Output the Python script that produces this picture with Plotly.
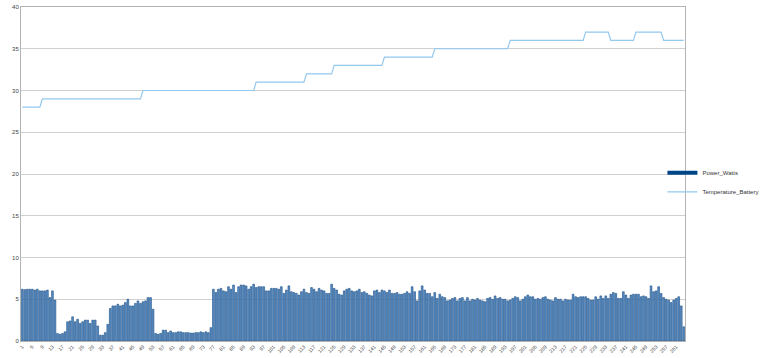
import plotly.graph_objects as go

categories = list(range(1, 265))

power_watts = [
    # 1-14
    6.2, 6.15, 6.2, 6.2, 6.2, 6.1, 6.2, 6.0, 6.0, 6.0, 6.1, 5.2, 6.0, 4.9,
    # 15-18
    0.9, 0.8, 0.9, 1.1,
    # 19-31
    2.3, 2.4, 2.9, 2.3, 2.6, 2.1, 2.3, 2.5, 2.5, 2.1, 2.5, 2.5, 1.8,
    # 32-35
    0.7, 0.7, 1.0, 2.0,
    # 36-52
    3.9, 4.2, 4.2, 4.4, 4.2, 4.3, 4.6, 5.0, 4.2, 4.2, 4.5, 4.8, 4.5, 4.7, 4.8, 5.2, 5.2,
    # 53
    3.8,
    # 54-76
    0.9, 0.8, 0.9, 1.3, 1.3, 1.0, 1.2, 1.0, 1.0, 1.1, 1.1, 1.0, 1.0, 1.0, 0.95, 0.95,
    1.0, 1.0, 1.1, 1.0, 1.1, 1.0, 1.6,
    # 77-108
    6.2, 5.8, 6.2, 6.3, 6.0, 5.9, 6.5, 6.2, 6.7, 5.8, 6.5, 6.7, 6.7, 6.6, 6.2, 6.5,
    6.8, 6.4, 6.5, 6.5, 6.5, 6.0, 6.0, 6.3, 6.3, 6.3, 6.2, 6.5, 5.7, 6.1, 6.6, 5.9,
    # 109-164
    5.8, 5.7, 5.5, 5.9, 6.2, 5.8, 5.7, 6.4, 6.2, 5.9, 6.3, 6.1, 6.0, 5.7, 5.7, 6.8,
    6.3, 6.1, 5.6, 5.5, 6.0, 6.2, 6.3, 6.0, 5.9, 6.0, 6.2, 5.8, 5.9, 5.7, 5.5, 5.4,
    6.0, 6.1, 5.8, 6.1, 6.0, 5.8, 6.1, 5.7, 5.7, 5.8, 5.6, 5.6, 5.7, 5.9, 5.7, 6.5,
    5.9, 4.8, 6.0, 6.6, 6.1, 5.7, 5.7, 5.3,
    # 165-217
    5.8, 5.1, 5.6, 5.3, 5.2, 4.8, 4.9, 5.1, 5.2, 4.8, 5.1, 5.2, 4.8, 5.2, 4.8, 5.0,
    4.9, 5.1, 4.9, 4.8, 4.7, 5.1, 5.2, 5.0, 5.4, 5.1, 5.2, 5.0, 5.0, 4.8, 4.9, 5.1,
    5.3, 5.2, 4.8, 5.0, 5.3, 5.5, 5.3, 5.3, 5.0, 5.1, 5.0, 5.2, 5.3, 5.0, 4.9, 4.8,
    5.2, 5.0, 5.0, 4.8, 5.0,
    # 218-264
    4.9, 4.9, 5.6, 5.3, 5.2, 5.3, 5.3, 5.3, 5.1, 4.9, 4.9, 5.3, 5.0, 5.4, 5.1, 5.4,
    5.1, 5.6, 5.8, 5.7, 5.1, 5.1, 5.9, 5.5, 5.1, 5.5, 5.6, 5.6, 5.6, 5.3, 5.4, 5.3,
    5.1, 6.6, 5.9, 6.0, 6.5, 5.7, 5.2, 5.0, 4.9, 4.6, 4.9, 5.1, 5.3, 4.2, 1.7,
]

temperature_battery = (
    [28] * 8 + [29] * 40 + [30] * 45 + [31] * 20 + [32] * 11 + [33] * 20
    + [34] * 20 + [35] * 30 + [36] * 30 + [37] * 10 + [36] * 10 + [37] * 11 + [36] * 9
)

tick_labels = [str(c) for c in range(1, 262, 4)]

n = min(len(categories), len(power_watts), len(temperature_battery))
categories = categories[:n]
power_watts = power_watts[:n]
temperature_battery = temperature_battery[:n]

fig = go.Figure()
fig.add_trace(go.Bar(
    x=categories, y=power_watts, name="Power_Watts",
    marker=dict(color="#5a8fc6", line=dict(color="#1d4f86", width=0.6)),
    showlegend=False,
))
fig.add_trace(go.Scatter(
    x=[None], y=[None], mode="lines", name="Power_Watts",
    line=dict(color="#004586", width=4),
))
fig.add_trace(go.Scatter(
    x=categories, y=temperature_battery, mode="lines", name="Temperature_Battery",
    line=dict(color="#93c8ef", width=1.2),
))

fig.update_layout(
    width=768, height=358,
    margin=dict(l=21, r=83, t=7, b=17, autoexpand=False),
    paper_bgcolor="white", plot_bgcolor="white",
    bargap=0.3,
    font=dict(family="Liberation Sans, DejaVu Sans, sans-serif", size=6, color="#333333"),
    showlegend=True,
    legend=dict(x=0.966, y=0.475, xanchor="left", yanchor="middle",
                font=dict(size=6, color="#333333"), bgcolor="rgba(0,0,0,0)",
                tracegroupgap=0, itemwidth=30),
)
fig.update_xaxes(
    range=[0.5, n + 0.5], automargin=False,
    tickmode="array", tickvals=list(range(1, 262, 4)), ticktext=tick_labels,
    tickangle=-45, tickfont=dict(size=5, color="#444444"),
    showgrid=False, zeroline=False,
    showline=True, linecolor="#b3b3b3", linewidth=1, mirror=True,
    ticks="", ticklen=0,
)
fig.update_yaxes(
    range=[0, 40], dtick=5, automargin=False, tickfont=dict(size=6, color="#444444"),
    showgrid=True, gridcolor="#d0d0d0", gridwidth=1,
    zeroline=False, showline=True, linecolor="#b3b3b3", linewidth=1, mirror=True,
    ticks="", ticklen=0,
)

fig.write_html(
    "out.html",
    config={"displayModeBar": False},
    post_script="document.body.style.margin='0px';document.body.style.overflow='hidden';",
)
